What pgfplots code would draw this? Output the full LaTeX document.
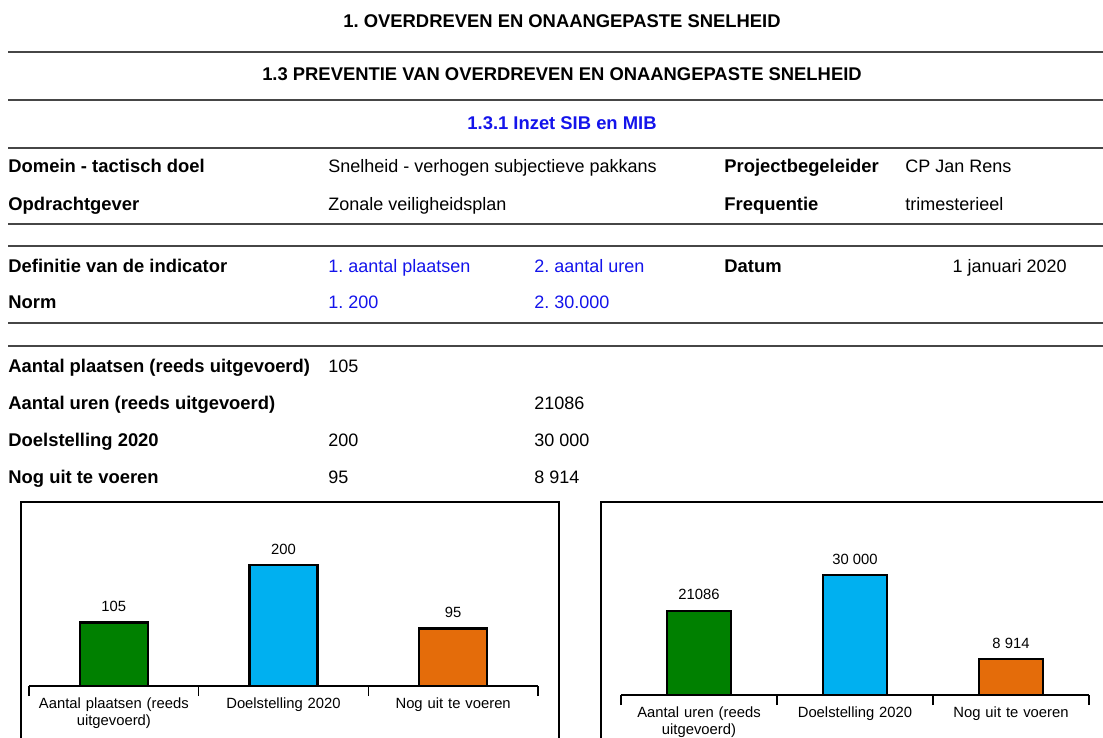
\documentclass[border=0pt]{standalone}
\usepackage{pgfplots}
\pgfplotsset{compat=1.18}
\usepackage{fontspec}
\setmainfont{Liberation Sans}
\frenchspacing
\definecolor{barGreen}{RGB}{0,128,0}
\definecolor{barBlue}{RGB}{0,176,240}
\definecolor{barOrange}{RGB}{228,108,10}
\definecolor{ruleGray}{RGB}{70,70,70}
\definecolor{txtBlue}{RGB}{20,20,235}
\newcommand\bodyfont{\fontsize{9}{10.5}\selectfont}
\newcommand\boldfont{\fontsize{9.2}{10.5}\selectfont\bfseries}
\newcommand\chartfont{\fontsize{7.4}{8.6}\selectfont}

\pgfplotsset{
  barchart/.style={
    anchor=south west, scale only axis, clip=false,
    xmin=-0.5, xmax=2.5, ymin=0,
    ybar, bar shift=0pt,
    axis y line=none, axis x line=bottom,
    x axis line style={-, black, line width=0.6pt},
    xtick={0,1,2}, major tick length=0pt,
    extra x ticks={-0.5,0.5,1.5,2.5}, extra x tick labels={,,,},
    extra x tick style={major tick length=5pt, tick align=outside,
      tick style={black, line width=0.6pt}},
    xticklabel style={font=\chartfont, align=center, text width=90pt, yshift=-2.5pt},
    nodes near coords, point meta=explicit symbolic,
    every node near coord/.append style={font=\chartfont, black, yshift=1.5pt},
    every axis plot/.append style={draw=black, line width=1.1pt},
  }
}

\begin{document}
\begin{tikzpicture}[x=0.5pt,y=0.5pt]
\clip (0,0) rectangle (1103,-738);
\fill[white] (0,0) rectangle (1103,-738);
\coordinate (c1) at (29,-686);
\coordinate (c2) at (621,-695);

% titles
\node[font=\boldfont, anchor=base] at (562,-28) {1. OVERDREVEN EN ONAANGEPASTE SNELHEID};
\node[font=\boldfont, anchor=base] at (562,-81) {1.3 PREVENTIE VAN OVERDREVEN EN ONAANGEPASTE SNELHEID};
\node[font=\boldfont, anchor=base, text=txtBlue] at (562,-130) {1.3.1 Inzet SIB en MIB};

% rules
\foreach \yy in {52,100,148,224,246,323,346}
  \draw[ruleGray, line width=1pt] (8,-\yy) -- (1110,-\yy);

% info block
\begin{scope}[every node/.style={font=\bodyfont, anchor=base west, inner sep=0pt}]
\node[font=\boldfont] at (8,-172) {Domein - tactisch doel};
\node at (328,-172) {Snelheid - verhogen subjectieve pakkans};
\node[font=\boldfont] at (724,-172) {Projectbegeleider};
\node at (905,-172) {CP Jan Rens};
\node[font=\boldfont] at (8,-210) {Opdrachtgever};
\node at (328,-210) {Zonale veiligheidsplan};
\node[font=\boldfont] at (724,-210) {Frequentie};
\node at (905,-210) {trimesterieel};

\node[font=\boldfont] at (8,-272) {Definitie van de indicator};
\node[text=txtBlue] at (328,-272) {1. aantal plaatsen};
\node[text=txtBlue] at (534,-272) {2. aantal uren};
\node[font=\boldfont] at (724,-272) {Datum};
\node[anchor=base east] at (1067,-272) {1 januari 2020};
\node[font=\boldfont] at (8,-308) {Norm};
\node[text=txtBlue] at (328,-308) {1. 200};
\node[text=txtBlue] at (534,-308) {2. 30.000};

\node[font=\boldfont] at (8,-372) {Aantal plaatsen (reeds uitgevoerd)};
\node at (328,-372) {105};
\node[font=\boldfont] at (8,-409) {Aantal uren (reeds uitgevoerd)};
\node at (534,-409) {21086};
\node[font=\boldfont] at (8,-446) {Doelstelling 2020};
\node at (328,-446) {200};
\node at (534,-446) {30 000};
\node[font=\boldfont] at (8,-483) {Nog uit te voeren};
\node at (328,-483) {95};
\node at (534,-483) {8 914};
\end{scope}

% chart frames
\draw[black, line width=0.6pt] (21,-760) -- (21,-502) -- (559,-502) -- (559,-760);
\draw[black, line width=0.6pt] (601,-760) -- (601,-502) -- (1110,-502);

% chart 1: aantal plaatsen
\begin{axis}[barchart,
  at={(c1)}, width=254.5pt, height=80pt, ymax=264.5,
  bar width=34pt,
  xticklabels={{Aantal plaatsen (reeds\\uitgevoerd)},{Doelstelling 2020},{Nog uit te voeren}},
]
\addplot[fill=barGreen] coordinates {(0,105) [105]};
\addplot[fill=barBlue] coordinates {(1,200) [200]};
\addplot[fill=barOrange] coordinates {(2,95) [95]};
\end{axis}

% chart 2: aantal uren
\begin{axis}[barchart,
  at={(c2)}, width=234pt, height=80pt, ymax=40000,
  bar width=32pt,
  xticklabels={{Aantal uren (reeds\\uitgevoerd)},{Doelstelling 2020},{Nog uit te voeren}},
]
\addplot[fill=barGreen] coordinates {(0,21086) [21086]};
\addplot[fill=barBlue] coordinates {(1,30000) [30 000]};
\addplot[fill=barOrange] coordinates {(2,8914) [8 914]};
\end{axis}
\end{tikzpicture}
\end{document}
